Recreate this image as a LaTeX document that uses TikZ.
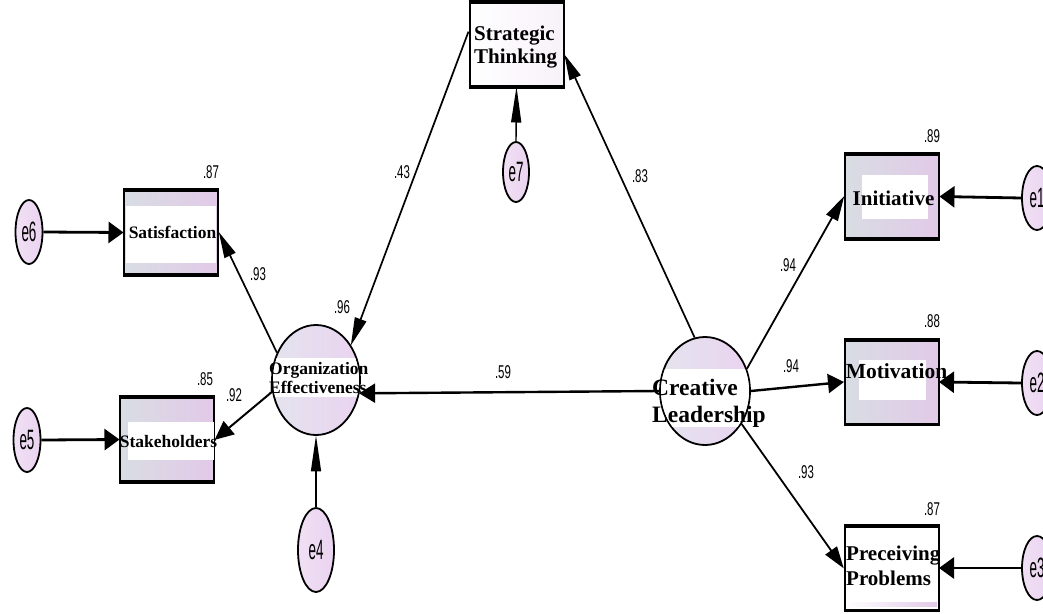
\documentclass[tikz,border=0pt]{standalone}
\usepackage{fontspec}
\setmainfont{Liberation Serif}
\newfontfamily\numfont{Liberation Sans}
\usetikzlibrary{arrows.meta,shapes.geometric}
\definecolor{shl}{HTML}{D8DDE3}
\definecolor{shr}{HTML}{E2C9E8}
\definecolor{ell}{HTML}{E4E4EE}
\definecolor{elr}{HTML}{EAD3F0}
\newcommand\etx[1]{\scalebox{0.48}[1]{\numfont\fontsize{28}{28}\selectfont #1}}
\newcommand\cf[1]{\scalebox{0.62}[1]{\numfont\fontsize{18.5}{18.5}\selectfont #1}}
\tikzset{
 obs/.style={draw=black, line width=2pt, rectangle, minimum width=94pt, minimum height=83pt, inner sep=0pt, left color=shl, right color=shr},
 lat/.style={draw=black, line width=1.8pt, ellipse, inner sep=0pt, left color=ell, right color=elr},
 err/.style={draw=black, line width=1.8pt, ellipse, inner sep=0pt, minimum width=27pt, minimum height=64pt, left color=elr!70!white, right color=elr},
 vt/.style={inner sep=0pt, align=left, anchor=west},
 coef/.style={inner sep=0pt},
 con/.style n args={3}{line width=#1pt, -{Triangle[length=#2pt,width=#3pt]}, shorten >=-0.5pt},
}
\begin{document}
\begin{tikzpicture}[x=1pt,y=-1pt]
\useasboundingbox (0,0) rectangle (1043,613);
\clip (0,0) rectangle (1043,613);
% observed variables
\node[obs, left color=white, right color=shr!25] (st) at (516.5,44.5) {};
\node[obs] (sat) at (171,232.5) {};
\node[obs] (stk) at (167,439.5) {};
\node[obs] (ini) at (892,196.5) {};
\node[obs] (mot) at (891.5,382) {};
\node[obs, left color=white, right color=white] (pp) at (891.5,568) {};
\foreach \n in {st,sat,stk,ini,mot,pp}{
  \draw[line width=3.4pt] (\n.north west) -- (\n.north east);
  \draw[line width=3.4pt] (\n.south west) -- (\n.south east);
}
% white text bands
\fill[white] (126,206) rectangle (216,263);
\fill[white] (128,422) rectangle (214,460);
\fill[white] (862,175) rectangle (928,219);
\fill[white] (859,360) rectangle (926,400);
\shade[left color=white, right color=shr] (846,602) rectangle (937,606.5);
% latent variables
\node[lat, minimum width=88pt, minimum height=110pt] (org) at (316,380) {};
\node[lat, minimum width=90pt, minimum height=108pt] (cl) at (705,391) {};
\begin{scope}
\clip (316,380) ellipse [x radius=43, y radius=54];
\fill[white] (260,358) rectangle (372,397);
\end{scope}
\begin{scope}
\clip (705,391) ellipse [x radius=44, y radius=53];
\fill[white] (650,369) rectangle (760,427);
\end{scope}
% error terms
\node[err] (e6) at (29,232) {\etx{e6}};
\node[err] (e5) at (27,440) {\etx{e5}};
\node[err, minimum width=36pt, minimum height=84pt] (e4) at (316,550) {\etx{e4}};
\node[err, minimum width=26pt, minimum height=60pt] (e7) at (516,172) {\etx{e7}};
\node[err, minimum width=30pt, minimum height=64pt] (e1) at (1037,198) {\etx{e1}};
\node[err, minimum width=30pt, minimum height=64pt] (e2) at (1037,383) {\etx{e2}};
\node[err, minimum width=30pt, minimum height=64pt] (e3) at (1037,568) {\etx{e3}};
% texts
\node[vt, font=\bfseries\fontsize{21}{23}\selectfont] (tst) at (474,47) {Strategic\\Thinking};
\node[font=\bfseries\fontsize{17.5}{18}\selectfont, inner sep=0pt] (tsat) at (172.5,232) {Satisfaction};
\node[font=\bfseries\fontsize{17.5}{18}\selectfont, inner sep=0pt] (tstk) at (168.5,442) {Stakeholders};
\node[font=\bfseries\fontsize{21}{22}\selectfont, inner sep=0pt] (tini) at (893.5,198) {Initiative};
\node[font=\bfseries\fontsize{21.5}{23}\selectfont, inner sep=0pt] (tmot) at (896.5,371) {Motivation};
\node[vt, font=\bfseries\fontsize{21}{25}\selectfont] (tpp) at (846,566) {Preceiving\\Problems};
\node[vt, font=\bfseries\fontsize{17.5}{19}\selectfont] (torg) at (269,378) {Organization\\Effectiveness};
\node[vt, font=\bfseries\fontsize{23.5}{27}\selectfont] (tcl) at (652,403) {Creative\\Leadership};
% connectors
\draw[con={1.7}{28}{12}] (st.165) -- (org.45);
\draw[con={1.7}{26}{12}] (cl.101) -- (st.-12);
\draw[con={2.4}{16}{19}] (cl.west) -- (org.-17);
\draw[con={1.7}{26}{12}] (org.145) -- (sat.east);
\draw[con={2.0}{19}{17}] (org.195) -- (stk.east);
\draw[con={1.8}{25}{13}] (cl.28) -- (ini.west);
\draw[con={2.4}{16}{19}] (cl.east) -- (mot.west);
\draw[con={1.8}{22}{14}] (cl.-42) -- (pp.west);
\draw[con={2.8}{15}{21}] (e1.west) -- (ini.east);
\draw[con={2.8}{15}{21}] (e2.west) -- (mot.east);
\draw[con={2.8}{15}{21}] (e3.west) -- (pp.east);
\draw[con={2.8}{15}{21}] (e6.east) -- (sat.west);
\draw[con={2.8}{15}{21}] (e5.east) -- (stk.west);
\draw[con={1.4}{36}{10}] (e4.north) -- (org.south);
\draw[con={1.4}{36}{10}] (e7.north) -- (st.south);
% coefficients
\node[coef] (c1) at (211,172) {\cf{.87}};
\node[coef] (c2) at (205,379) {\cf{.85}};
\node[coef] (c3) at (234,395) {\cf{.92}};
\node[coef] (c4) at (258,274) {\cf{.93}};
\node[coef] (c5) at (342,307) {\cf{.96}};
\node[coef] (c6) at (402,172) {\cf{.43}};
\node[coef] (c7) at (640,176) {\cf{.83}};
\node[coef] (c8) at (503,372) {\cf{.59}};
\node[coef] (c9) at (788,265) {\cf{.94}};
\node[coef] (c10) at (791,366) {\cf{.94}};
\node[coef] (c11) at (806,472) {\cf{.93}};
\node[coef] (c12) at (932,136) {\cf{.89}};
\node[coef] (c13) at (932,321) {\cf{.88}};
\node[coef] (c14) at (932,509) {\cf{.87}};
\end{tikzpicture}
\end{document}
